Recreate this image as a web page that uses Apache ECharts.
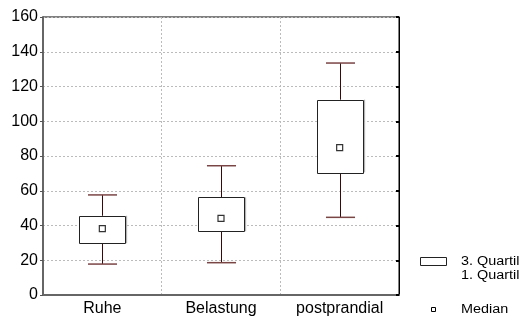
<!DOCTYPE html>
<html>
<head>
<meta charset="utf-8">
<style>
  html, body { margin: 0; padding: 0; background: #fff; }
  #chart { width: 524px; height: 320px; }
</style>
<script src="https://cdn.jsdelivr.net/npm/echarts@6/dist/echarts.min.js"></script>
</head>
<body>
<div id="chart"></div>
<script>
// Kategorien und Kennwerte
var categories = ['Ruhe', 'Belastung', 'postprandial']
var minValues = [17.8, 18.6, 44.7]
var q1Values = [29.8, 36.7, 70.6]
var medianValues = [38.2, 44.1, 84.8]
var q3Values = [45.6, 56.2, 112.4]
var maxValues = [57.6, 74.4, 133.5]
var yTicks = [0, 20, 40, 60, 80, 100, 120, 140, 160]

var FONT = '"Liberation Sans", Arial, sans-serif'

var boxData = []
var medianData = []
for (var i = 0; i < categories.length; i++) {
  boxData.push([i, minValues[i], q1Values[i], q3Values[i], maxValues[i]])
  medianData.push([i, medianValues[i]])
}

function renderBox(params, api) {
  var idx = api.value(0)
  var lo = api.coord([idx, api.value(1)])
  var q1 = api.coord([idx, api.value(2)])
  var q3 = api.coord([idx, api.value(3)])
  var hi = api.coord([idx, api.value(4)])
  var band = api.size([1, 0])[0]
  var bw = band * 0.39
  var cw = band * 0.245
  var x = Math.round(lo[0]) + 0.5
  var whisker = { stroke: '#3a0808', lineWidth: 1 }
  var cap = { stroke: '#7a4545', lineWidth: 1.5 }
  return {
    type: 'group',
    children: [
      { type: 'line', shape: { x1: x, y1: hi[1], x2: x, y2: q3[1] }, style: whisker },
      { type: 'line', shape: { x1: x, y1: q1[1], x2: x, y2: lo[1] }, style: whisker },
      { type: 'line', shape: { x1: x - cw / 2, y1: hi[1], x2: x + cw / 2, y2: hi[1] }, style: cap },
      { type: 'line', shape: { x1: x - cw / 2, y1: lo[1], x2: x + cw / 2, y2: lo[1] }, style: cap },
      // leichter Schatten rechts
      { type: 'line', shape: { x1: x + bw / 2 + 1, y1: q3[1], x2: x + bw / 2 + 1, y2: q1[1] }, style: { stroke: '#aaa', lineWidth: 1 } },
      { type: 'rect', shape: { x: Math.round(x - bw / 2) + 0.5, y: Math.round(q3[1]) + 0.5, width: Math.round(bw), height: Math.round(q1[1] - q3[1]) },
        style: { fill: '#fff', stroke: '#222', lineWidth: 1 } }
    ]
  }
}

var chart = echarts.init(document.getElementById('chart'), null, { renderer: 'canvas' })
chart.setOption({
  animation: false,
  backgroundColor: '#fff',
  grid: {
    left: 43, right: 125, top: 17, bottom: 25,
    show: true, borderColor: '#000', borderWidth: 1, backgroundColor: 'transparent'
  },
  xAxis: {
    type: 'category',
    data: categories,
    boundaryGap: true,
    axisLine: { lineStyle: { color: '#666', width: 2 } },
    axisTick: { show: false },
    axisLabel: { color: '#000', fontFamily: FONT, fontSize: 16, margin: 6 },
    splitLine: { show: true, lineStyle: { color: '#bbb', type: [2, 2], width: 1 } }
  },
  yAxis: [{
    type: 'value',
    min: yTicks[0],
    max: yTicks[yTicks.length - 1],
    interval: 20,
    axisLine: { show: true, lineStyle: { color: '#666', width: 2 } },
    axisTick: { show: true, length: 3, lineStyle: { color: '#555' } },
    axisLabel: { color: '#000', fontFamily: FONT, fontSize: 16, margin: 5 },
    splitLine: { show: true, lineStyle: { color: '#bbb', type: [2, 2], width: 1 } }
  }, {
    type: 'value',
    position: 'right',
    min: yTicks[0],
    max: yTicks[yTicks.length - 1],
    interval: 20,
    axisLine: { show: true, lineStyle: { color: '#000', width: 1 } },
    axisTick: { show: true, inside: true, length: 3, lineStyle: { color: '#000', width: 2 } },
    axisLabel: { show: false },
    splitLine: { show: false }
  }],
  series: [
    {
      type: 'custom',
      renderItem: renderBox,
      encode: { x: 0, y: [1, 2, 3, 4] },
      data: boxData,
      z: 3
    },
    {
      type: 'scatter',
      data: medianData,
      symbol: 'rect',
      symbolSize: 6,
      itemStyle: { color: '#fff', borderColor: '#000', borderWidth: 1.2 },
      z: 4
    }
  ],
  graphic: [
    { type: 'rect', shape: { x: 420.5, y: 257.5, width: 26, height: 8 },
      style: { fill: '#fff', stroke: '#222', lineWidth: 1 } },
    { type: 'text', x: 461, y: 256, scaleX: 1.2, style: { text: '3. Quartil', fill: '#000', font: '12px ' + FONT } },
    { type: 'text', x: 461, y: 270, scaleX: 1.2, style: { text: '1. Quartil', fill: '#000', font: '12px ' + FONT } },
    { type: 'rect', shape: { x: 431.5, y: 307.5, width: 4, height: 4 },
      style: { fill: '#fff', stroke: '#000', lineWidth: 1 } },
    { type: 'text', x: 461, y: 304, scaleX: 1.2, style: { text: 'Median', fill: '#000', font: '12px ' + FONT } }
  ]
})
</script>
</body>
</html>
